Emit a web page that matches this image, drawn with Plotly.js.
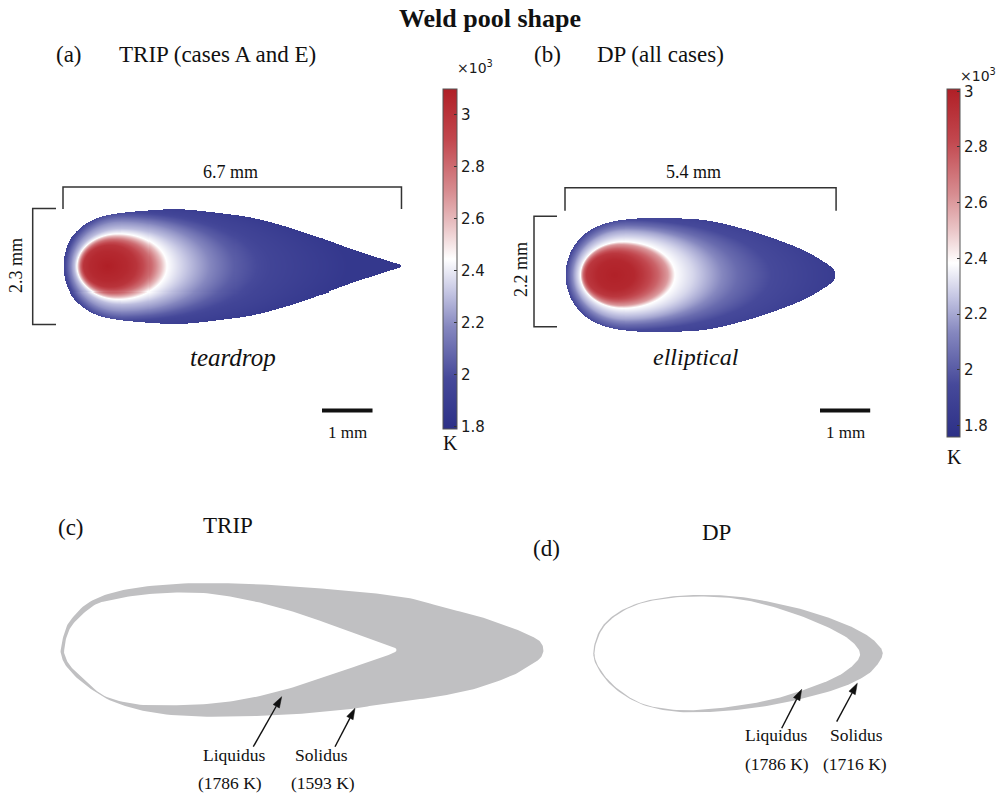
<!DOCTYPE html>
<html><head><meta charset="utf-8">
<script src="https://cdn.plot.ly/plotly-3.0.1.min.js"></script>
<style>html,body{margin:0;padding:0;background:#fff;} #chart{width:1001px;height:795px;}</style>
</head><body><div id="chart"></div>
<script>
// ---------------- data ----------------
const figTitle = 'Weld pool shape';
const panelLetters = ['(a)', '(b)', '(c)', '(d)'];
const panelNames = ['TRIP (cases A and E)', 'DP (all cases)', 'TRIP', 'DP'];
const poolShapes = ['teardrop', 'elliptical'];
const poolLength = [6.7, 5.4];      // mm
const poolWidth = [2.3, 2.2];       // mm
const scaleBarLen = 1;              // mm
const cbTickVals = [1.8, 2.0, 2.2, 2.4, 2.6, 2.8, 3.0]; // x10^3 K
const cbRangeA = [1.79, 3.1];
const cbRangeB = [1.76, 3.01];

// (a) TRIP pool outline, upper half (mm)
const tripOutX  = [0, 0.099, 0.336, 0.673, 1.128, 1.781, 2.316, 3.108, 3.761, 4.434, 5.087, 5.740, 6.413, 6.70];
const tripOutHW = [0, 0.465, 0.762, 0.960, 1.059, 1.118, 1.138, 1.059, 0.960, 0.782, 0.564, 0.327, 0.109, 0];
// (a) isotherms (x10^3 K), hottest first
const tripIsoT   = [3.05, 3.0, 2.8, 2.6, 2.445, 2.3, 2.2, 2.05, 1.95, 1.88];
const tripIsoCx  = [0.88, 0.93, 1.0, 1.05, 1.1, 1.15, 1.15, 1.15, 1.15, 1.15];
const tripIsoRxL = [0.35, 0.53, 0.66, 0.75, 0.83, 0.93, 0.99, 1.07, 1.13, 1.2];
const tripIsoRxR = [0.40, 0.53, 0.75, 0.88, 0.95, 1.35, 1.7, 2.25, 2.95, 4.05];
const tripIsoRy  = [0.30, 0.42, 0.53, 0.60, 0.645, 0.75, 0.88, 1.0, 1.1, 1.25];
const tripPeakT = 3.1, tripEdgeT = 1.85;

// (b) DP pool outline, upper half (mm)
const dpOutX  = [0, 0.066, 0.23, 0.5, 0.9, 1.43, 1.96, 2.76, 3.42, 4.08, 4.75, 5.22, 5.36, 5.4];
const dpOutHW = [0, 0.365, 0.66, 0.9, 1.06, 1.13, 1.14, 1.10, 0.96, 0.76, 0.50, 0.23, 0.11, 0];
const dpIsoT   = [2.97, 2.9, 2.75, 2.6, 2.385, 2.3, 2.2, 2.05, 1.95, 1.88];
const dpIsoCx  = [0.98, 0.98, 1.05, 1.1, 1.15, 1.2, 1.2, 1.2, 1.2, 1.2];
const dpIsoRxL = [0.35, 0.56, 0.69, 0.77, 0.85, 0.95, 1.02, 1.11, 1.18, 1.25];
const dpIsoRxR = [0.40, 0.57, 0.80, 0.95, 1.04, 1.35, 1.7, 2.25, 2.9, 3.8];
const dpIsoRy  = [0.30, 0.43, 0.53, 0.61, 0.665, 0.76, 0.88, 1.0, 1.1, 1.25];
const dpPeakT = 3.0, dpEdgeT = 1.85;

// (c) TRIP mushy zone: solidus (outer) and liquidus (inner), closed outlines
const tripSolX = [0, 0.07, 0.2, 0.586, 1.252, 2.252, 3.252, 4.252, 5.586, 6.386, 7.052, 7.72, 8.386, 9.052, 9.386, 9.586, 9.655,
                  9.586, 9.386, 9.052, 8.386, 7.72, 7.052, 6.386, 5.92, 4.92, 3.92, 2.92, 1.92, 1.052, 0.452, 0.12, 0.02];
const tripSolY = [0, 0.33, 0.6, 0.966, 1.2, 1.32, 1.334, 1.3, 1.2, 1.12, 1.02, 0.834, 0.666, 0.434, 0.29, 0.17, 0,
                  -0.17, -0.3, -0.5, -0.746, -0.9, -1.0, -1.08, -1.166, -1.266, -1.32, -1.334, -1.266, -1.034, -0.666, -0.334, -0.14];
const tripLiqX = [0.07, 0.13, 0.28, 0.66, 1.0, 1.586, 2.252, 2.92, 3.586, 4.252, 4.92, 5.586, 6.252, 6.72,
                  6.252, 5.586, 4.92, 4.252, 3.586, 2.92, 2.252, 1.586, 0.92, 0.5, 0.2, 0.09];
const tripLiqY = [0, 0.3, 0.56, 0.89, 1.0, 1.1, 1.146, 1.134, 1.034, 0.88, 0.68, 0.434, 0.2, 0,
                  -0.2, -0.434, -0.666, -0.854, -1.0, -1.08, -1.106, -1.094, -0.94, -0.62, -0.33, -0.13];
// (d) DP mushy zone
const dpSolX = [0, 0.134, 0.468, 1.0, 1.668, 2.334, 3.0, 3.668, 4.334, 5.0, 5.468, 5.7, 5.788,
                5.7, 5.468, 5.0, 4.334, 3.668, 3.0, 2.334, 1.668, 1.0, 0.468, 0.134];
const dpSolY = [0, 0.466, 0.8, 1.032, 1.146, 1.166, 1.12, 1.0, 0.832, 0.6, 0.366, 0.166, 0,
                -0.2, -0.434, -0.668, -0.868, -1.02, -1.12, -1.174, -1.168, -1.034, -0.734, -0.368];
const dpLiqX = [0.024, 0.168, 0.5, 1.0, 1.668, 2.334, 2.8, 3.334, 4.0, 4.668, 5.134, 5.334,
                5.2, 4.868, 4.334, 3.668, 3.0, 2.334, 1.668, 1.0, 0.5, 0.168];
const dpLiqY = [0, 0.466, 0.786, 1.012, 1.12, 1.132, 1.1, 1.0, 0.8, 0.532, 0.266, 0,
                -0.234, -0.468, -0.688, -0.9, -1.034, -1.114, -1.134, -1.014, -0.72, -0.368];
const liquidusK = [1786, 1786];
const solidusK = [1593, 1716];

// ---------------- helpers ----------------
const W = 1001, H = 795;
const P = px => px / W, Q = py => 1 - py / H;
const SERIF = 'Liberation Serif, Times New Roman, serif';
const SANS = 'DejaVu Sans, sans-serif';

function smoothClosed(xs, ys, steps) {
  const n = xs.length, ox = [], oy = [];
  const cr = (a, b, c, d, t) => 0.5 * ((2 * b) + (-a + c) * t + (2 * a - 5 * b + 4 * c - d) * t * t + (-a + 3 * b - 3 * c + d) * t * t * t);
  for (let i = 0; i < n; i++) {
    const i0 = (i - 1 + n) % n, i2 = (i + 1) % n, i3 = (i + 2) % n;
    for (let s = 0; s < steps; s++) {
      const t = s / steps;
      ox.push(cr(xs[i0], xs[i], xs[i2], xs[i3], t));
      oy.push(cr(ys[i0], ys[i], ys[i2], ys[i3], t));
    }
  }
  ox.push(ox[0]); oy.push(oy[0]);
  return [ox, oy];
}
function mirrorOutline(X, HW) {
  const xs = X.concat(X.slice(1, -1).reverse());
  const ys = HW.concat(HW.slice(1, -1).reverse().map(v => -v));
  return [xs, ys];
}
function isoField(x, y, iso) {
  const n = iso.T.length, f = [], s = [];
  for (let k = 0; k < n; k++) {
    const rx = x < iso.cx[k] ? iso.rxL[k] : iso.rxR[k];
    const sk = Math.sqrt(Math.pow((x - iso.cx[k]) / rx, 2) + Math.pow(y / iso.ry[k], 2));
    s.push(sk); f.push((sk - 1) * 0.5 * (rx + iso.ry[k]));
  }
  if (f[0] <= 0) return iso.peak + (iso.T[0] - iso.peak) * s[0];
  for (let k = 1; k < n; k++) {
    if (f[k] <= 0) { const t = f[k - 1] / (f[k - 1] - f[k]); return iso.T[k - 1] + (iso.T[k] - iso.T[k - 1]) * t; }
  }
  const t = Math.min(1, f[n - 1] / 0.3);
  return iso.T[n - 1] + (iso.edge - iso.T[n - 1]) * t;
}
function buildField(outX, outHW, iso, dx) {
  const [mx, my] = mirrorOutline(outX, outHW);
  const [px, py] = smoothClosed(mx, my, 12);
  const xmax = Math.max(...outX), ymax = Math.max(...outHW) + 0.05;
  const xs = [], ys = [], z = [];
  for (let x = -0.04; x <= xmax + 0.04; x += dx) xs.push(x);
  for (let y = -ymax; y <= ymax; y += dx) ys.push(y);
  for (const y of ys) {
    const cuts = [];
    for (let i = 0; i < px.length - 1; i++) {
      const y1 = py[i], y2 = py[i + 1];
      if ((y1 <= y && y2 > y) || (y2 <= y && y1 > y)) cuts.push(px[i] + (y - y1) / (y2 - y1) * (px[i + 1] - px[i]));
    }
    cuts.sort((a, b) => a - b);
    const row = xs.map(x => {
      let inside = false;
      for (let c = 0; c < cuts.length; c++) if (x > cuts[c]) inside = !inside;
      return inside ? isoField(x, y, iso) : null;
    });
    z.push(row);
  }
  return { xs, ys, z };
}

// pixel geometry of each panel: [left px, right px, top px, bottom px, origin x px, centre y px, px per unit]
const geo = {
  a: [20, 430, 150, 460, 63, 266.5, 50.52],
  b: [515, 930, 150, 460, 565, 275, 50.2],
  c: [40, 560, 560, 740, 60.7, 650, 50],
  d: [575, 900, 570, 740, 593.3, 653.3, 50]
};
function axes(g, anchor) {
  const [l, r, t, b, x0, cy, s] = g;
  return [
    { domain: [P(l), P(r)], range: [(l - x0) / s, (r - x0) / s], visible: false, anchor: 'y' + anchor, fixedrange: true },
    { domain: [Q(b), Q(t)], range: [(cy - b) / s, (cy - t) / s], visible: false, anchor: 'x' + anchor, fixedrange: true }
  ];
}
const dX = (g, px) => (px - g[4]) / g[6];
const dY = (g, py) => (g[5] - py) / g[6];

const coolWarm = [[0, '#2c3087'], [0.15, '#46499a'], [0.3, '#8587bf'], [0.4, '#c3c4e2'], [0.5, '#ffffff'],
                  [0.6, '#e9c2c4'], [0.7, '#d78c90'], [0.85, '#c2484f'], [1, '#b01f26']];

const fA = buildField(tripOutX, tripOutHW, { T: tripIsoT, cx: tripIsoCx, rxL: tripIsoRxL, rxR: tripIsoRxR, ry: tripIsoRy, peak: tripPeakT, edge: tripEdgeT }, 0.02);
const fB = buildField(dpOutX, dpOutHW, { T: dpIsoT, cx: dpIsoCx, rxL: dpIsoRxL, rxR: dpIsoRxR, ry: dpIsoRy, peak: dpPeakT, edge: dpEdgeT }, 0.02);

function cbar(leftPx, topPx, botPx, thick) {
  return {
    x: P(leftPx), xanchor: 'left', y: Q((topPx + botPx) / 2), yanchor: 'middle',
    len: botPx - topPx, lenmode: 'pixels', thickness: thick, thicknessmode: 'pixels',
    xpad: 0, ypad: 0, outlinewidth: 1, outlinecolor: '#555',
    tickmode: 'array', tickvals: cbTickVals, ticks: 'inside', ticklen: 3, tickcolor: '#333',
    tickfont: { family: SANS, size: 15, color: '#1a1a1a' }
  };
}

const traces = [
  { type: 'heatmap', x: fA.xs, y: fA.ys, z: fA.z, zmin: cbRangeA[0], zmax: cbRangeA[1], colorscale: coolWarm,
    zsmooth: false, xaxis: 'x', yaxis: 'y', hoverinfo: 'skip', colorbar: cbar(442.7, 89, 429, 14) },
  { type: 'heatmap', x: fB.xs, y: fB.ys, z: fB.z, zmin: cbRangeB[0], zmax: cbRangeB[1], colorscale: coolWarm,
    zsmooth: false, xaxis: 'x2', yaxis: 'y2', hoverinfo: 'skip', colorbar: cbar(946.7, 88.3, 436.7, 13) }
];
function fillTrace(xs, ys, color, ax) {
  const [sx, sy] = smoothClosed(xs, ys, 10);
  return { type: 'scatter', mode: 'lines', x: sx, y: sy, fill: 'toself', fillcolor: color,
           line: { color: color, width: 0 }, xaxis: 'x' + ax, yaxis: 'y' + ax, hoverinfo: 'skip', showlegend: false };
}
traces.push(fillTrace(tripSolX, tripSolY, '#c0c0c2', '3'));
traces.push(fillTrace(tripLiqX, tripLiqY, '#ffffff', '3'));
traces.push(fillTrace(dpSolX, dpSolY, '#c0c0c2', '4'));
traces.push(fillTrace(dpLiqX, dpLiqY, '#ffffff', '4'));

// brackets & scale bars
const shapes = [];
const lineStyle = { color: '#333', width: 1.5 };
function hBracket(g, ax, L, yBarPx, yTickPx) {
  const yb = dY(g, yBarPx), yt = dY(g, yTickPx);
  shapes.push({ type: 'path', xref: 'x' + ax, yref: 'y' + ax, layer: 'above', line: lineStyle,
    path: `M 0,${yt} L 0,${yb} L ${L},${yb} L ${L},${yt}` });
}
function vBracket(g, ax, Wd, xBarPx, xTickPx, yOff) {
  const xb = dX(g, xBarPx), xt = dX(g, xTickPx);
  const y0 = yOff - Wd / 2, y1 = yOff + Wd / 2;
  shapes.push({ type: 'path', xref: 'x' + ax, yref: 'y' + ax, layer: 'above', line: lineStyle,
    path: `M ${xt},${y0} L ${xb},${y0} L ${xb},${y1} L ${xt},${y1}` });
}
function scaleBar(g, ax, xStartPx, yPx) {
  const x0 = dX(g, xStartPx), y = dY(g, yPx);
  shapes.push({ type: 'line', xref: 'x' + ax, yref: 'y' + ax, layer: 'above', x0: x0, x1: x0 + scaleBarLen, y0: y, y1: y,
    line: { color: '#111', width: 4 } });
}
hBracket(geo.a, '', poolLength[0], 187, 209);
vBracket(geo.a, '', poolWidth[0], 32.7, 56, 0);
scaleBar(geo.a, '', 322, 410.5);
hBracket(geo.b, '2', poolLength[1], 187.7, 210.7);
vBracket(geo.b, '2', poolWidth[1], 534, 557, 0.07);
scaleBar(geo.b, '2', 820, 410.5);

// arrows (drawn as shapes, in pixel positions converted to paper)
function arrow(headX, headY, tailX, tailY) {
  const dx = headX - tailX, dy = headY - tailY, L = Math.hypot(dx, dy);
  const ux = dx / L, uy = dy / L, hl = 11, hw = 3.6;
  const bx = headX - ux * hl, by = headY - uy * hl;
  shapes.push({ type: 'line', xref: 'paper', yref: 'paper', layer: 'above', x0: P(tailX), y0: Q(tailY), x1: P(bx), y1: Q(by),
    line: { color: '#111', width: 1.4 } });
  const p1 = [bx - uy * hw, by + ux * hw], p2 = [bx + uy * hw, by - ux * hw];
  shapes.push({ type: 'path', xref: 'paper', yref: 'paper', layer: 'above', fillcolor: '#111', line: { color: '#111', width: 0.5 },
    path: `M ${P(headX)},${Q(headY)} L ${P(p1[0])},${Q(p1[1])} L ${P(p2[0])},${Q(p2[1])} Z` });
}
arrow(281.7, 696.7, 253.3, 746.7);
arrow(355, 708.3, 335, 746.7);
arrow(801.7, 689.3, 781.7, 728.3);
arrow(857.3, 683.3, 836.7, 721.7);

// text
const ann = [];
function txt(text, xpx, ypx, size, opts) {
  ann.push(Object.assign({ text: text, x: P(xpx), y: Q(ypx), xref: 'paper', yref: 'paper', showarrow: false,
    xanchor: 'center', yanchor: 'middle', font: { family: SERIF, size: size, color: '#111' } }, opts || {}));
}
txt('<b>' + figTitle + '</b>', 490, 19, 26);
txt(panelLetters[0], 69, 55, 23);
txt(panelNames[0], 117, 55, 23, { xanchor: 'left' });
txt(panelLetters[1], 547, 55, 23);
txt(panelNames[1], 595, 55, 23, { xanchor: 'left' });
txt(panelLetters[2], 71, 527, 23);
txt(panelNames[2], 228, 525, 23);
txt(panelLetters[3], 546, 548, 23);
txt(panelNames[3], 716, 532, 23);
txt(poolLength[0].toFixed(1) + ' mm', 230, 172, 18);
txt(poolLength[1].toFixed(1) + ' mm', 693, 172, 18);
txt(poolWidth[0].toFixed(1) + ' mm', 16, 266, 18, { textangle: -90 });
txt(poolWidth[1].toFixed(1) + ' mm', 521, 270, 18, { textangle: -90 });
txt('<i>' + poolShapes[0] + '</i>', 233, 357, 25);
txt('<i>' + poolShapes[1] + '</i>', 696, 357, 24);
txt(scaleBarLen + ' mm', 347.5, 432, 17);
txt(scaleBarLen + ' mm', 845, 432, 17);
txt('×10<sup>3</sup>', 474.5, 67, 14, { font: { family: SANS, size: 14, color: '#1a1a1a' } });
txt('×10<sup>3</sup>', 958, 75, 14, { xanchor: 'left', font: { family: SANS, size: 14, color: '#1a1a1a' } });
txt('K', 450, 443, 20);
txt('K', 954, 457, 20);
txt('Liquidus', 234, 755, 17.5);
txt('(' + liquidusK[0] + ' K)', 230, 783, 17.5);
txt('Solidus', 321, 755, 17.5);
txt('(' + solidusK[0] + ' K)', 323, 783, 17.5);
txt('Liquidus', 776, 735, 17.5);
txt('(' + liquidusK[1] + ' K)', 776.5, 764, 17.5);
txt('Solidus', 856, 735, 17.5);
txt('(' + solidusK[1] + ' K)', 855, 764, 17.5);

const [xa, ya] = axes(geo.a, '');
const [xb, yb] = axes(geo.b, '2');
const [xc, yc] = axes(geo.c, '3');
const [xd, yd] = axes(geo.d, '4');

const layout = {
  width: W, height: H, margin: { l: 0, r: 0, t: 0, b: 0 },
  paper_bgcolor: '#fff', plot_bgcolor: 'rgba(0,0,0,0)', showlegend: false,
  xaxis: xa, yaxis: ya, xaxis2: xb, yaxis2: yb, xaxis3: xc, yaxis3: yc, xaxis4: xd, yaxis4: yd,
  shapes: shapes, annotations: ann
};
Plotly.newPlot('chart', traces, layout, { staticPlot: true, displayModeBar: false });
</script></body></html>
